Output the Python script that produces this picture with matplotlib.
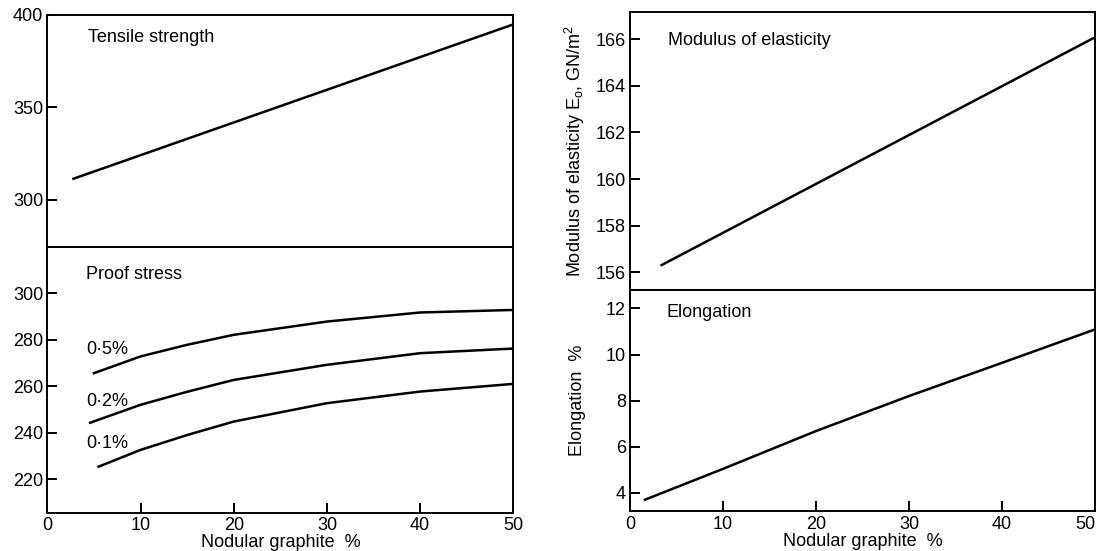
import matplotlib.pyplot as plt
import matplotlib

matplotlib.rcParams['font.family'] = ['Liberation Sans', 'DejaVu Sans']
matplotlib.rcParams['mathtext.default'] = 'regular'

# tensile strength, MN/m2
ts_x = [2.8, 50]
ts_y = [311.3, 394.9]

# proof stress curves, MN/m2
ps_x = [5.0, 10, 15, 20, 30, 40, 50]
ps_05 = [265.6, 272.8, 277.8, 282.1, 287.8, 291.7, 292.8]
ps_x2 = [4.6, 10, 15, 20, 30, 40, 50]
ps_02 = [244.3, 252.0, 257.6, 262.7, 269.2, 274.2, 276.2]
ps_x1 = [5.5, 10, 15, 20, 30, 40, 50]
ps_01 = [225.4, 232.6, 239.0, 244.8, 252.7, 257.7, 261.0]

# modulus of elasticity, GN/m2
me_x = [3.4, 49.8]
me_y = [156.31, 166.04]

# elongation, %
el_x = [1.6, 10, 20, 30, 40, 50]
el_y = [3.70, 5.04, 6.68, 8.2, 9.64, 11.09]

xticks = [0, 10, 20, 30, 40, 50]
fs = 13
lw = 1.8

fig = plt.figure(figsize=(10.98, 5.51), dpi=100)
ax1 = fig.add_axes([0.0431, 0.5523, 0.4244, 0.4205])
ax2 = fig.add_axes([0.0431, 0.0695, 0.4244, 0.4828])
ax3 = fig.add_axes([0.5738, 0.4737, 0.4235, 0.5051])
ax4 = fig.add_axes([0.5738, 0.0717, 0.4235, 0.4020])

for ax in (ax1, ax2, ax3, ax4):
    ax.set_xlim(0, 50)
    for s in ax.spines.values():
        s.set_linewidth(1.4)
    ax.tick_params(direction='in', length=7, width=1.4, labelsize=fs, pad=3)

for ax in (ax1, ax3):
    ax.set_xticks([])
for ax in (ax2, ax4):
    ax.set_xticks(xticks)
    ax.set_xticklabels([str(v) for v in xticks])
    ax.set_xlabel('Nodular graphite  %', fontsize=fs, labelpad=0)

# last x label on the right sits at the figure edge
ax4.get_xticklabels()[-1].set_horizontalalignment('right')

# left: strength
ax1.plot(ts_x, ts_y, color='black', lw=lw)
ax1.set_ylim(274.5, 400.0)
ax1.set_yticks([300, 350, 400])
ax1.text(4.4, 387.6, 'Tensile strength', fontsize=fs, va='center')

ax2.plot(ps_x, ps_05, color='black', lw=lw)
ax2.plot(ps_x2, ps_02, color='black', lw=lw)
ax2.plot(ps_x1, ps_01, color='black', lw=lw)
ax2.set_ylim(205.6, 320.0)
ax2.set_yticks([220, 240, 260, 280, 300])
ax2.text(4.2, 307.9, 'Proof stress', fontsize=fs, va='center')
ax2.text(4.2, 275.6, '0·5%', fontsize=fs, va='center')
ax2.text(4.2, 253.4, '0·2%', fontsize=fs, va='center')
ax2.text(4.2, 235.5, '0·1%', fontsize=fs, va='center')

# right: modulus and elongation
ax3.plot(me_x, me_y, color='black', lw=lw)
ax3.set_ylim(155.24, 167.18)
ax3.set_yticks([156, 158, 160, 162, 164, 166])
ax3.text(4.1, 165.94, 'Modulus of elasticity', fontsize=fs, va='center')
ax3.set_ylabel('Modulus of elasticity E$_o$, GN/m$^2$', fontsize=fs, labelpad=6)

ax4.plot(el_x, el_y, color='black', lw=lw)
ax4.set_ylim(3.19, 12.8)
ax4.set_yticks([4, 6, 8, 10, 12])
ax4.text(3.9, 11.83, 'Elongation', fontsize=fs, va='center')
ax4.set_ylabel('Elongation  %', fontsize=fs, labelpad=14)

fig.savefig('out.png', dpi=100)
